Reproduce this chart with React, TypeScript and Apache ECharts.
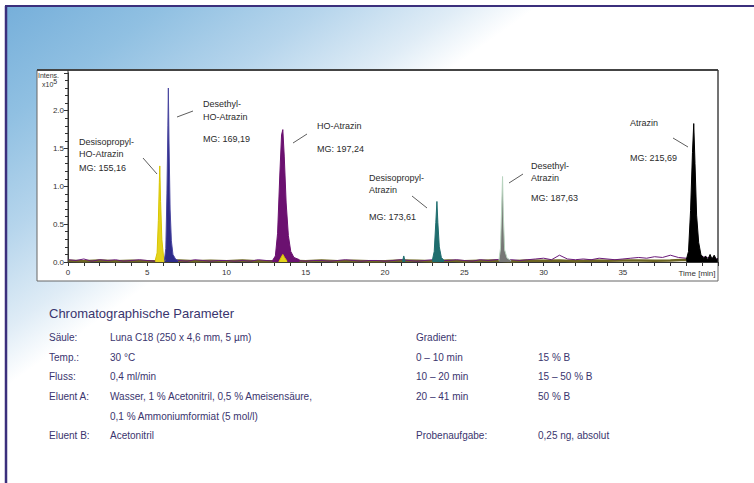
import React, { useEffect, useRef } from 'react';
import * as echarts from 'echarts';

const FONT = '"Liberation Sans", Arial, Helvetica, sans-serif';

// ---- axis / tick data ----
const xMin = 0;
const xMax = 41;
const yMax = 2.5;
const xLabelStep = 5;
const yLabelMax = 2.0;

// ---- peaks: [time (min), intensity (x10^5)] ----
const peakDesisopropylHO: number[][] = [
  [5.5, 0.02], [5.62, 0.12], [5.7, 0.55], [5.76, 1.05], [5.79, 1.27], [5.84, 0.8], [5.92, 0.3], [6.02, 0.08], [6.12, 0.02],
];
const peakDesethylHO: number[][] = [
  [6.08, 0.02], [6.17, 0.18], [6.24, 0.9], [6.3, 1.8], [6.33, 2.3], [6.37, 1.6], [6.44, 0.7], [6.52, 0.28], [6.62, 0.1], [6.78, 0.04], [6.95, 0.02],
];
const peakHOAtrazin: number[][] = [
  [12.9, 0.02], [13.08, 0.08], [13.22, 0.38], [13.36, 1.15], [13.47, 1.68], [13.55, 1.75], [13.64, 1.4], [13.76, 0.78], [13.9, 0.35], [14.05, 0.14], [14.25, 0.06], [14.6, 0.03],
];
const peakHOAtrazinMinor: number[][] = [
  [13.3, 0.0], [13.44, 0.06], [13.55, 0.1], [13.66, 0.06], [13.82, 0.01],
];
const peakDesisopropyl: number[][] = [
  [22.98, 0.02], [23.1, 0.14], [23.2, 0.52], [23.27, 0.8], [23.33, 0.52], [23.42, 0.2], [23.55, 0.06], [23.72, 0.02],
];
const spike21: number[][] = [
  [21.1, 0.01], [21.18, 0.08], [21.26, 0.01],
];
const peakDesethyl: number[][] = [
  [27.18, 0.02], [27.28, 0.18], [27.35, 0.7], [27.41, 1.13], [27.46, 0.62], [27.54, 0.16], [27.7, 0.05], [27.95, 0.02],
];
const peakAtrazin: number[][] = [
  [39.0, 0.03], [39.14, 0.14], [39.27, 0.68], [39.39, 1.45], [39.47, 1.83], [39.55, 1.3], [39.65, 0.62], [39.78, 0.26], [39.92, 0.1],
  [40.1, 0.05], [40.22, 0.08], [40.35, 0.03], [40.5, 0.1], [40.62, 0.04], [40.76, 0.09], [40.9, 0.03], [41.0, 0.05],
];

// ---- baseline traces (values every 0.5 min / 1 min) ----
const purpleNoise = [
  0.03, 0.02, 0.04, 0.01, 0.03, 0.02, 0.03, 0.01, 0.02, 0.03,
  0.02, 0.01, 0.03, 0.02, 0.02, 0.01, 0.03, 0.02, 0.01, 0.02,
  0.02, 0.01, 0.02, 0.01, 0.03, 0.02, 0.01, 0.02, 0.03, 0.02,
  0.01, 0.02, 0.02, 0.01, 0.02, 0.03, 0.02, 0.01, 0.02, 0.02,
  0.01, 0.02, 0.03, 0.02, 0.01, 0.02, 0.03, 0.02, 0.02, 0.03,
  0.02, 0.01, 0.03, 0.02, 0.03, 0.04, 0.03, 0.02, 0.03, 0.04,
  0.05, 0.03, 0.09, 0.04, 0.03, 0.04, 0.03, 0.05, 0.04, 0.03,
  0.04, 0.05, 0.06, 0.05, 0.07, 0.06, 0.09, 0.06, 0.05, 0.04,
  0.07, 0.05, 0.04,
];
const purpleStep = 0.5;
const oliveNoise = [
  0.015, 0.01, 0.02, 0.01, 0.015, 0.01, 0.01, 0.02, 0.01, 0.015,
  0.01, 0.02, 0.01, 0.01, 0.015, 0.01, 0.02, 0.01, 0.015, 0.01,
  0.01, 0.02, 0.015, 0.01, 0.02, 0.01, 0.015, 0.02, 0.01, 0.02,
  0.015, 0.02, 0.01, 0.02, 0.015, 0.02, 0.02, 0.015, 0.02, 0.03,
  0.02, 0.02,
];
const oliveStep = 1;

// ---- texts ----
const paramsLeft: [string, string][] = [
  ['Säule:', 'Luna C18 (250 x 4,6 mm, 5 µm)'],
  ['Temp.:', '30 °C'],
  ['Fluss:', '0,4 ml/min'],
  ['Eluent A:', 'Wasser, 1 % Acetonitril, 0,5 % Ameisensäure,'],
  ['', '0,1 % Ammoniumformiat (5 mol/l)'],
  ['Eluent B:', 'Acetonitril'],
];
const paramsRight: [string, string][] = [
  ['Gradient:', ''],
  ['0 – 10 min', '15 % B'],
  ['10 – 20 min', '15 – 50 % B'],
  ['20 – 41 min', '50 % B'],
  ['', ''],
  ['Probenaufgabe:', '0,25 ng, absolut'],
];

export default function App() {
  const ref = useRef<HTMLDivElement>(null);
  useEffect(() => {
    if (!ref.current) return;
    const chart = echarts.init(ref.current, null, { renderer: 'svg' });

    const txtColor = '#2b2b2b';
    const paramColor = '#3a356e';
    const rowY = [337, 357, 376, 396, 416, 435];

    const annText = (text: string, x: number, y: number) => ({
      type: 'text', z: 20, x, y,
      style: { text, fill: txtColor, font: `9px ${FONT}`, textVerticalAlign: 'middle', verticalAlign: 'middle' },
    });
    const leader = (x1: number, y1: number, x2: number, y2: number) => ({
      type: 'line', z: 20, shape: { x1, y1, x2, y2 }, style: { stroke: '#333', lineWidth: 0.8 },
    });
    const pText = (text: string, x: number, y: number, size = 10) => ({
      type: 'text', z: 20, x, y,
      style: { text, fill: paramColor, font: `${size}px ${FONT}`, textVerticalAlign: 'middle', verticalAlign: 'middle' },
    });

    const graphic: any[] = [
      // background sky gradient
      {
        type: 'rect', z: -5, shape: { x: 6, y: 6, width: 748, height: 477 },
        style: {
          fill: new echarts.graphic.LinearGradient(6, 6, 6 + 180, 6 + 252, [
            { offset: 0, color: '#76afda' },
            { offset: 0.3, color: '#90c0e2' },
            { offset: 0.6, color: '#b6d5ec' },
            { offset: 0.85, color: '#dfecf6' },
            { offset: 1, color: '#ffffff' },
          ], true),
        },
      },
      // frame
      { type: 'line', z: 5, shape: { x1: 5, y1: 6, x2: 754, y2: 6 }, style: { stroke: '#3b2f7c', lineWidth: 2 } },
      { type: 'line', z: 5, shape: { x1: 6, y1: 6, x2: 6, y2: 483 }, style: { stroke: '#3b2f7c', lineWidth: 2.5 } },
      // chart box
      { type: 'rect', z: -4, shape: { x: 37, y: 70, width: 681, height: 211 }, style: { fill: '#ffffff', stroke: '#666', lineWidth: 1 } },
      { type: 'line', z: 5, shape: { x1: 37, y1: 70, x2: 718, y2: 70 }, style: { stroke: '#444', lineWidth: 2 } },
      { type: 'line', z: 5, shape: { x1: 68, y1: 70, x2: 68, y2: 262 }, style: { stroke: '#333', lineWidth: 1 } },
      { type: 'line', z: 5, shape: { x1: 718, y1: 70, x2: 718, y2: 262 }, style: { stroke: '#333', lineWidth: 1 } },
      // y unit
      { type: 'text', z: 20, x: 38, y: 75.5, style: { text: 'Intens.', fill: '#333333', font: `7px ${FONT}`, textVerticalAlign: 'middle', verticalAlign: 'middle' } },
      {
        type: 'text', z: 20, x: 42, y: 84,
        style: {
          text: '{a|x10}{b|5}', fill: '#333', textVerticalAlign: 'middle', verticalAlign: 'middle',
          rich: { a: { fontSize: 7, fontFamily: FONT, fill: '#333' }, b: { fontSize: 7, fontFamily: FONT, fill: '#333', verticalAlign: 'top', padding: [0, 0, 5, 0] } },
        },
      },
      { type: 'text', z: 20, x: 697, y: 273, style: { text: 'Time [min]', fill: '#333', font: `8px ${FONT}`, textAlign: 'center', align: 'center', textVerticalAlign: 'middle', verticalAlign: 'middle' } },
      // annotations
      annText('Desisopropyl-', 79, 142), annText('HO-Atrazin', 79, 154), annText('MG: 155,16', 79, 168),
      leader(143, 158, 157, 174),
      annText('Desethyl-', 203, 104), annText('HO-Atrazin', 203, 117), annText('MG: 169,19', 203, 139),
      leader(177, 117, 193, 111),
      annText('HO-Atrazin', 317, 126), annText('MG: 197,24', 317, 149),
      leader(293, 143, 307, 134),
      annText('Desisopropyl-', 369, 178), annText('Atrazin', 369, 190), annText('MG: 173,61', 369, 217),
      leader(412, 196, 427, 208),
      annText('Desethyl-', 531, 166), annText('Atrazin', 531, 178), annText('MG: 187,63', 531, 198),
      leader(509, 183, 523, 174),
      annText('Atrazin', 630, 123), annText('MG: 215,69', 630, 158),
      leader(673, 138, 688, 147),
      // parameters
      pText('Chromatographische Parameter', 49, 313, 13),
    ];
    paramsLeft.forEach(([a, b], i) => {
      if (a) graphic.push(pText(a, 49, rowY[i]));
      if (b) graphic.push(pText(b, 110, rowY[i]));
    });
    paramsRight.forEach(([a, b], i) => {
      if (a) graphic.push(pText(a, 416, rowY[i]));
      if (b) graphic.push(pText(b, 538, rowY[i]));
    });

    const peakSeries = (name: string, data: number[][], area: string, line: string, z: number) => ({
      name, type: 'line', data, symbol: 'none', z, silent: true,
      lineStyle: { color: line, width: 1 },
      areaStyle: { color: area, opacity: 1 },
    });

    chart.setOption({
      animation: false,
      backgroundColor: '#ffffff',
      grid: { left: 68, right: 36, top: 262 - 75.65 * yMax, bottom: 483 - 262, show: false },
      xAxis: {
        type: 'value', min: xMin, max: xMax, interval: 1,
        axisLine: { show: true, lineStyle: { color: '#333', width: 1 } },
        axisTick: { show: true, length: 4, lineStyle: { color: '#333' } },
        axisLabel: {
          interval: 0, fontSize: 8, color: '#333', fontFamily: FONT, margin: 6,
          formatter: (v: number) => {
            const r = Math.round(v);
            return r % xLabelStep === 0 && r < 40 ? String(r) : '';
          },
        },
        splitLine: { show: false },
      },
      yAxis: {
        type: 'value', min: 0, max: yMax, interval: 0.5,
        axisLine: { show: true, lineStyle: { color: '#333', width: 1 } },
        axisTick: { show: true, length: 4, lineStyle: { color: '#333' } },
        minorTick: { show: true, splitNumber: 5, length: 3, lineStyle: { color: '#333' } },
        axisLabel: {
          fontSize: 8, color: '#333', fontFamily: FONT, margin: 4,
          formatter: (v: number) => (v <= yLabelMax + 1e-9 ? v.toFixed(1) : ''),
        },
        splitLine: { show: false },
      },
      graphic,
      series: [
        {
          name: 'baseline', type: 'line', symbol: 'none', z: 2, silent: true,
          data: oliveNoise.map((v, i) => [i * oliveStep, v]),
          lineStyle: { color: '#6d6522', width: 2.5 },
        },
        {
          name: 'noise', type: 'line', symbol: 'none', z: 3, silent: true,
          data: purpleNoise.map((v, i) => [i * purpleStep, v]),
          lineStyle: { color: '#6a1a7a', width: 1 },
        },
        peakSeries('Desisopropyl-HO-Atrazin', peakDesisopropylHO, '#e4d31c', '#d8c500', 4),
        peakSeries('Desethyl-HO-Atrazin', peakDesethylHO, '#2d2b8a', '#4a47a0', 4),
        peakSeries('HO-Atrazin', peakHOAtrazin, '#6b1170', '#6b1170', 4),
        peakSeries('HO-Atrazin minor', peakHOAtrazinMinor, '#e4d31c', '#d8c500', 5),
        peakSeries('spike', spike21, '#1f6d6e', '#1f6d6e', 4),
        peakSeries('Desisopropyl-Atrazin', peakDesisopropyl, '#1f6d6e', '#1f6d6e', 4),
        peakSeries('Desethyl-Atrazin', peakDesethyl, '#777775', '#b8d4bf', 4),
        peakSeries('Atrazin', peakAtrazin, '#000000', '#000000', 4),
      ],
    } as any);
    return () => chart.dispose();
  }, []);
  return <div ref={ref} style={{ width: 754, height: 483, position: 'absolute', left: 0, top: 0 }} />;
}
